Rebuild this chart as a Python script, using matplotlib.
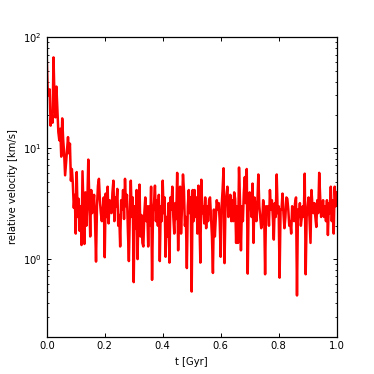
import numpy as np
import matplotlib
matplotlib.use('Agg')
from matplotlib import pyplot as plt

# relative velocity [km/s], evenly sampled from t = 0 to 1 Gyr
vel = [65, 32, 30, 34, 16, 21, 17, 66, 28, 19, 36, 22,
       14, 11.8, 15, 8.4, 18.6, 12, 9.0, 5.7, 7.5, 10, 12.6, 9,
       11, 5.1, 6.5, 4.8, 2.9, 3.8, 1.7, 6.1, 2.4, 3.5, 1.8, 3.0,
       1.34, 6.2, 2.8, 1.37, 4.0, 2.0, 3.2, 7.9, 3.4, 1.6, 4.2, 2.6,
       3.0, 3.8, 2.2, 0.95, 3.0, 4.6, 5.3, 3.4, 2.6, 2.2, 2.8, 3.6,
       1.04, 3.9, 2.4, 4.5, 2.1, 3.4, 3.2, 2.6, 4.0, 5.1, 2.2, 3.6,
       3.0, 4.3, 2.0, 2.5, 1.3, 3.4, 2.8, 4.2, 2.3, 5.3, 3.0, 3.8,
       1.8, 0.96, 2.6, 5.1, 2.4, 3.6, 0.62, 3.0, 1.9, 4.2, 1.0, 3.2,
       4.7, 1.6, 2.5, 1.4, 1.3, 2.6, 3.6, 2.2, 3.0, 1.3, 3.0, 2.0,
       4.5, 0.65, 2.7, 3.2, 4.6, 2.2, 3.4, 2.0, 3.8, 0.96, 3.0, 2.2,
       5.1, 2.6, 3.6, 1.05, 2.4, 1.6, 3.2, 0.93, 3.6, 2.8, 4.5, 2.4,
       1.7, 3.2, 2.3, 6.0, 1.2, 3.4, 4.5, 1.7, 3.0, 5.8, 4.2, 2.0,
       2.4, 0.83, 3.0, 4.2, 2.6, 3.6, 0.51, 4.2, 2.2, 4.2, 2.4, 3.6,
       1.7, 4.6, 2.2, 0.93, 5.2, 2.6, 3.0, 2.1, 3.6, 1.9, 3.0, 2.2,
       3.4, 3.6, 2.4, 1.6, 0.75, 2.8, 1.6, 2.4, 3.4, 2.8, 3.2, 2.2,
       1.05, 3.0, 4.2, 6.6, 0.92, 3.0, 3.8, 4.5, 2.4, 2.6, 3.8, 2.2,
       3.4, 2.2, 4.0, 3.5, 1.4, 3.0, 1.4, 6.7, 3.4, 1.2, 3.0, 2.2,
       4.0, 5.5, 3.2, 6.5, 0.74, 3.4, 4.0, 3.2, 2.4, 4.8, 1.4, 3.6,
       3.0, 2.2, 3.2, 5.8, 3.0, 2.4, 1.9, 2.1, 3.4, 2.8, 0.73, 3.0,
       2.6, 3.0, 2.0, 4.2, 2.8, 3.4, 2.4, 1.5, 3.2, 2.4, 5.8, 2.6,
       3.0, 0.68, 2.8, 2.8, 3.9, 2.6, 1.9, 2.4, 3.6, 3.5, 2.8, 2.0,
       2.2, 1.7, 3.0, 2.6, 2.2, 3.2, 3.6, 0.47, 2.8, 2.4, 3.2, 2.0,
       2.4, 3.0, 2.4, 5.9, 0.73, 2.4, 3.0, 3.6, 2.2, 1.4, 4.2, 3.0,
       2.6, 3.2, 2.4, 1.95, 3.4, 2.6, 6.0, 3.6, 2.4, 2.8, 3.4, 2.4,
       3.0, 2.2, 3.4, 1.65, 3.2, 2.6, 4.5, 2.2, 3.4, 1.7, 4.5, 3.0,
       4.0]
t = np.linspace(0, 1.0, len(vel))

plt.rcParams['font.size'] = 7.2
plt.rcParams['font.family'] = 'DejaVu Sans'

fig = plt.figure(figsize=(3.74, 3.74), dpi=100)
ax = fig.add_axes([0.125, 0.1, 0.775, 0.8])
ax.plot(t, vel, color='red', lw=1.8)
ax.set_yscale('log')
ax.set_xlim(0, 1.0)
ax.set_ylim(0.2, 100)
ax.set_xticks([0.0, 0.2, 0.4, 0.6, 0.8, 1.0])
ax.set_xlabel('t [Gyr]')
ax.set_ylabel('relative velocity [km/s]')

ax.tick_params(which='both', direction='in', top=True, right=True)
ax.tick_params(which='major', length=3, width=0.7)
ax.tick_params(which='minor', length=1.5, width=0.6)
for s in ax.spines.values():
    s.set_linewidth(0.9)

fig.savefig('out.png', dpi=100)
